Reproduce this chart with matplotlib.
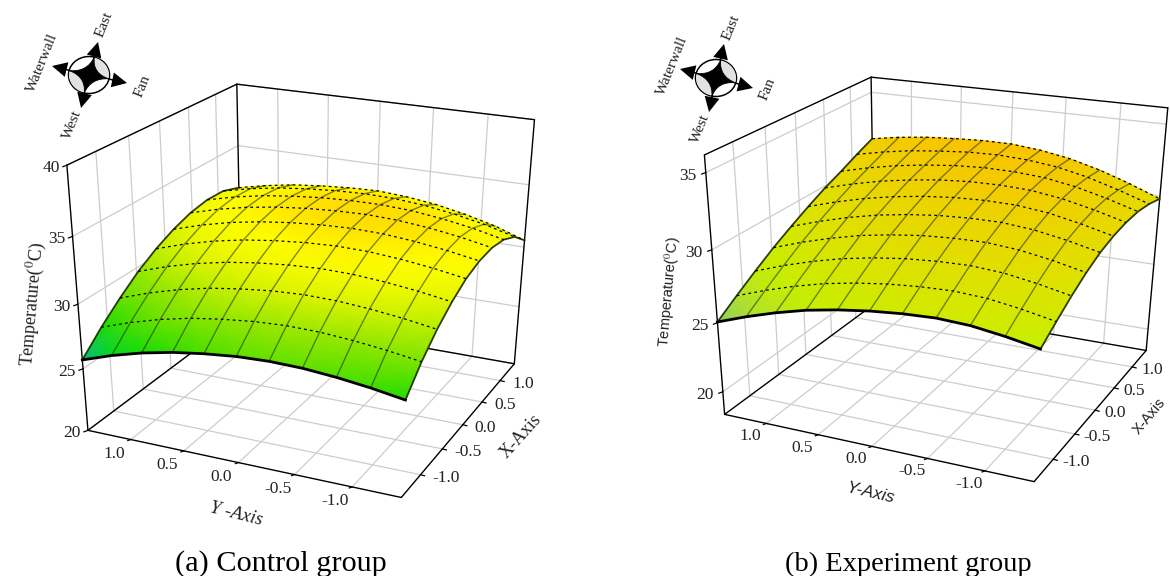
import numpy as np
import matplotlib
matplotlib.use("Agg")
import matplotlib.pyplot as plt
from matplotlib.colors import LinearSegmentedColormap, Normalize
from matplotlib.patches import Ellipse, Polygon, PathPatch
from matplotlib.path import Path

# ---------- data ----------
axis_ticks = [-1.0, -0.5, 0.0, 0.5, 1.0]
axis_labels = ["-1.0", "-0.5", "0.0", "0.5", "1.0"]
x_grid = [-1.414, -1.100, -0.786, -0.471, -0.157, 0.157, 0.471, 0.786, 1.100, 1.414]
y_grid = [1.414, 1.131, 0.849, 0.566, 0.283, 0.0, -0.283, -0.566, -0.849, -1.131, -1.414]

temp_control = [
    [25.70, 26.50, 27.15, 27.65, 28.00, 28.25, 28.35, 28.30, 28.10, 27.80, 27.40],
    [27.20, 28.01, 28.67, 29.19, 29.54, 29.80, 29.92, 29.88, 29.70, 29.42, 29.05],
    [28.50, 29.31, 29.97, 30.49, 30.84, 31.10, 31.22, 31.18, 31.00, 30.72, 30.35],
    [29.65, 30.43, 31.05, 31.53, 31.87, 32.10, 32.22, 32.18, 32.00, 31.72, 31.35],
    [30.55, 31.30, 31.90, 32.36, 32.68, 32.90, 33.01, 32.97, 32.78, 32.49, 32.10],
    [31.25, 31.95, 32.51, 32.92, 33.21, 33.40, 33.49, 33.43, 33.22, 32.91, 32.50],
    [31.75, 32.39, 32.89, 33.25, 33.50, 33.65, 33.72, 33.63, 33.40, 33.06, 32.60],
    [32.00, 32.58, 33.02, 33.32, 33.54, 33.65, 33.67, 33.55, 33.27, 32.88, 32.35],
    [31.95, 32.48, 32.87, 33.13, 33.32, 33.40, 33.36, 33.16, 32.81, 32.34, 31.70],
    [31.45, 31.96, 32.35, 32.60, 32.77, 32.85, 32.70, 32.41, 31.95, 31.36, 30.55],
]
temp_experiment = [
    [25.05, 25.80, 26.45, 27.00, 27.40, 27.70, 27.90, 28.00, 27.90, 27.60, 27.20],
    [26.00, 26.74, 27.38, 27.92, 28.31, 28.60, 28.78, 28.86, 28.74, 28.42, 28.00],
    [26.90, 27.63, 28.26, 28.78, 29.17, 29.45, 29.61, 29.67, 29.53, 29.19, 28.75],
    [27.75, 28.46, 29.06, 29.57, 29.93, 30.20, 30.34, 30.38, 30.21, 29.86, 29.40],
    [28.50, 29.17, 29.75, 30.22, 30.56, 30.80, 30.92, 30.94, 30.75, 30.38, 29.90],
    [29.20, 29.83, 30.36, 30.78, 31.09, 31.30, 31.39, 31.36, 31.13, 30.71, 30.20],
    [29.85, 30.42, 30.90, 31.26, 31.54, 31.70, 31.74, 31.66, 31.37, 30.91, 30.35],
    [30.40, 30.92, 31.34, 31.65, 31.88, 32.00, 31.98, 31.84, 31.49, 30.97, 30.35],
    [31.00, 31.44, 31.78, 32.01, 32.19, 32.25, 32.15, 31.91, 31.46, 30.85, 30.15],
    [31.55, 31.90, 32.15, 32.30, 32.40, 32.40, 32.20, 31.85, 31.30, 30.60, 29.80],
]
z_ticks_control = [20, 25, 30, 35, 40]
z_ticks_experiment = [20, 25, 30, 35]
captions = ["(a) Control group", "(b) Experiment group"]
directions = ["East", "Fan", "West", "Waterwall"]

# ---------- style ----------
SERIF = "Liberation Serif"
SANS = "Liberation Sans"
TXT = "#222222"
GRID = "#cdcdcd"


def make_cmap(name, stops):
    lo, hi = stops[0][0], stops[-1][0]
    return (LinearSegmentedColormap.from_list(name, [((v - lo) / (hi - lo), c) for v, c in stops]),
            Normalize(lo, hi))


cmap_a, norm_a = make_cmap("a", [
    (25.7, "#00bc84"), (26.6, "#00dc10"), (27.4, "#20dc00"), (28.3, "#60e000"), (29.8, "#98e800"),
    (31.0, "#d4f200"), (32.0, "#f4fa00"), (32.7, "#ffff00"), (33.7, "#ffdc00")])
cmap_b, norm_b = make_cmap("b", [
    (25.0, "#88cc66"), (26.0, "#b4e030"), (27.0, "#c4f000"), (29.0, "#dce400"),
    (31.0, "#ecd400"), (32.4, "#fac400")])

panels = [dict(
    z=temp_control, zlim=(20, 40), zticks=z_ticks_control, cmap=cmap_a, norm=norm_a,
    corners=dict(lb=(89, 430), lt=(66, 165), fb=(401, 498), rb=(515, 363), rt=(534, 120),
                 bb=(240, 316), bt=(238, 84)),
    ylab_off=(-17, 14), xlab_off=12, zlab_off=-7,
    ztext=dict(x=33, y=304, rot=85, size=13, family=SERIF, s=r"Temperature($^{0}$C)"),
    ytext=dict(x=236, y=514, rot=-14, size=13.5, family=SERIF, s="Y -Axis", style="italic"),
    xtext=dict(x=521, y=436, rot=48, size=13, family=SERIF, s="X-Axis"),
    compass=dict(c=(89, 75), tips=[(98, 42), (127, 83), (81, 108), (52, 66)],
                 text=[(104, 25), (143, 86), (72, 125), (42, 63)]),
    cap=(281, 564), capsize=21.8,
), dict(
    z=temp_experiment, zlim=(18.3, 36.1), zticks=z_ticks_experiment, cmap=cmap_b, norm=norm_b,
    corners=dict(lb=(726, 414), lt=(703, 155), fb=(1034, 482), rb=(1147, 350), rt=(1167, 108),
                 bb=(873, 304), bt=(873, 77)),
    ylab_off=(-16, 13), xlab_off=9, zlab_off=-9,
    ztext=dict(x=669, y=292, rot=85, size=10.5, family=SANS, s=r"Temperature($^{0}$C)"),
    ytext=dict(x=870, y=493, rot=-13, size=12.5, family=SANS, s="Y-Axis", style="italic"),
    xtext=dict(x=1149, y=416, rot=50, size=10.5, family=SANS, s="X-Axis"),
    compass=dict(c=(716, 78), tips=[(724, 44), (753, 88), (709, 112), (680, 69)],
                 text=[(731, 28), (768, 89), (700, 129), (672, 66)]),
    cap=(908, 564), capsize=20.5,
)]

plt.rcParams["mathtext.fontset"] = "stix"
fig = plt.figure(figsize=(11.7, 5.76), dpi=100)
ax = fig.add_axes([0, 0, 1, 1])
ax.set_xlim(0, 1170)
ax.set_ylim(576, 0)
ax.axis("off")

R = 1.414


def fit_projection(corners, zlim):
    """Camera matrix that places the 3-D box on the page."""
    z0, z1 = zlim
    world = dict(lb=(-R, R, z0), lt=(-R, R, z1), fb=(-R, -R, z0), rb=(R, -R, z0),
                 rt=(R, -R, z1), bb=(R, R, z0), bt=(R, R, z1))
    A = []
    for key, (u, v) in corners.items():
        X, Y, Z = world[key]
        A.append([X, Y, Z, 1, 0, 0, 0, 0, -u * X, -u * Y, -u * Z, -u])
        A.append([0, 0, 0, 0, X, Y, Z, 1, -v * X, -v * Y, -v * Z, -v])
    _, _, vt = np.linalg.svd(np.array(A, float))
    P = vt[-1].reshape(3, 4)

    def project(x, y, z):
        x, y, z = np.broadcast_arrays(np.asarray(x, float), np.asarray(y, float), np.asarray(z, float))
        h = np.stack([x, y, z, np.ones_like(x)], axis=-1) @ P.T
        return h[..., 0] / h[..., 2], h[..., 1] / h[..., 2]
    return project


def seg(project, a, b, **kw):
    xs, ys = project(*np.array([a, b]).T)
    ax.plot(xs, ys, solid_capstyle="round", **kw)


def draw_compass(c, tips, text):
    cx, cy = c
    tips = np.array(tips, float)
    centre = np.array(c, float)
    vec = tips - centre
    unit = vec / np.linalg.norm(vec, axis=1, keepdims=True)
    normal = np.stack([-unit[:, 1], unit[:, 0]], axis=1)
    rim = unit * 20
    rim[:, 1] *= 0.92
    rim_pts = centre + rim
    ax.add_patch(Ellipse(c, 41, 37, fc="white", ec="black", lw=1.1, zorder=6))
    for i, j in [(0, 1), (2, 3)]:
        th0 = np.arctan2(rim[i, 1] / 18.5, rim[i, 0] / 20.5)
        th1 = np.arctan2(rim[j, 1] / 18.5, rim[j, 0] / 20.5)
        if th1 < th0:
            th1 += 2 * np.pi
        t = np.linspace(th0, th1, 24)
        pts = np.c_[cx + 20 * np.cos(t), cy + 18 * np.sin(t)]
        ax.add_patch(Polygon(np.vstack([[c], pts]), fc="#e2e2e2", ec="none", zorder=6.1))
    verts, codes = [rim_pts[0]], [Path.MOVETO]
    for i in range(4):
        k = (i + 1) % 4
        verts += [centre + 0.13 * (rim[i] + rim[k]), rim_pts[k]]
        codes += [Path.CURVE3, Path.CURVE3]
    ax.add_patch(PathPatch(Path(verts, codes), fc="black", ec="black", lw=0.6, zorder=6.2))
    for k in range(4):
        base = tips[k] - unit[k] * 15
        ax.plot([rim_pts[k, 0], base[0]], [rim_pts[k, 1], base[1]], color="black", lw=1.1, zorder=6.3)
        ax.add_patch(Polygon([tips[k], base + normal[k] * 7.5, base - normal[k] * 7.5],
                             fc="black", ec="none", zorder=6.3))
        ax.text(text[k][0], text[k][1], directions[k], rotation=68, family=SERIF, size=11,
                color=TXT, ha="center", va="center", rotation_mode="anchor", zorder=7)


for p in panels:
    z0, z1 = p["zlim"]
    pj = fit_projection(p["corners"], p["zlim"])
    grid_kw = dict(color=GRID, lw=0.9, zorder=1)
    box_kw = dict(color="black", lw=1.0, zorder=2)

    for t in axis_ticks:
        seg(pj, (-R, t, z0), (R, t, z0), **grid_kw)      # floor
        seg(pj, (t, -R, z0), (t, R, z0), **grid_kw)
        seg(pj, (t, R, z0), (t, R, z1), **grid_kw)       # left wall
        seg(pj, (R, t, z0), (R, t, z1), **grid_kw)       # back wall
    for zt in p["zticks"]:
        seg(pj, (-R, R, zt), (R, R, zt), **grid_kw)
        seg(pj, (R, R, zt), (R, -R, zt), **grid_kw)

    for a, b in [((-R, R, z0), (-R, R, z1)), ((-R, R, z1), (R, R, z1)), ((R, R, z1), (R, -R, z1)),
                 ((R, R, z0), (R, R, z1)), ((R, -R, z0), (R, -R, z1)), ((-R, R, z0), (R, R, z0)),
                 ((R, R, z0), (R, -R, z0)), ((-R, R, z0), (-R, -R, z0)), ((-R, -R, z0), (R, -R, z0))]:
        seg(pj, a, b, **box_kw)

    # ticks and tick labels
    for t, lab in zip(axis_ticks, axis_labels):
        tx, ty = pj(-R, t, z0)
        ax.plot([tx, tx - 3], [ty, ty + 1], color="black", lw=0.9, zorder=2)
        ax.text(tx + p["ylab_off"][0], ty + p["ylab_off"][1], lab, family=SERIF, size=12.5, color=TXT,
                ha="center", va="center")
        tx, ty = pj(t, -R, z0)
        ax.plot([tx, tx + 4], [ty, ty + 1], color="black", lw=0.9, zorder=2)
        ax.text(tx + p["xlab_off"], ty + 3, lab, family=SERIF, size=12.5, color=TXT, ha="left", va="center")
    for zt in p["zticks"]:
        tx, ty = pj(-R, R, zt)
        ax.plot([tx, tx - 4], [ty, ty + 1.5], color="black", lw=0.9, zorder=2)
        ax.text(tx + p["zlab_off"], ty + 3, str(zt), family=SERIF, size=12.5, color=TXT, ha="right", va="center")

    # surface
    XX, YY = np.meshgrid(x_grid, y_grid, indexing="ij")
    ZZ = np.array(p["z"])
    px, py = pj(XX, YY, ZZ)
    ax.pcolormesh(px, py, ZZ, shading="gouraud", cmap=p["cmap"], norm=p["norm"], zorder=3)
    nr, nc = ZZ.shape
    for j in range(nc):                                  # lines rising from the front edge
        edge = j in (0, nc - 1)
        ax.plot(px[:, j], py[:, j], color="#1c2a00", lw=1.3 if edge else 1.0,
                alpha=0.9 if edge else 0.55, zorder=4)
    for i in range(nr):                                  # cross lines
        if i == 0:
            ax.plot(px[i], py[i], color="black", lw=2.0, zorder=5)
        else:
            ax.plot(px[i], py[i], color="black", lw=0.9, ls=(0, (2.2, 2.6)), zorder=4.5)

    for key in ("ztext", "ytext", "xtext"):
        d = dict(p[key])
        ax.text(d.pop("x"), d.pop("y"), d.pop("s"), rotation=d.pop("rot"), color=TXT, ha="center",
                va="center", rotation_mode="anchor", **d)
    draw_compass(**p["compass"])

for p, caption in zip(panels, captions):
    ax.text(*p["cap"], caption, family=SERIF, size=p["capsize"], color="black", ha="center", va="center")

fig.savefig("out.png", dpi=100, facecolor="white")
